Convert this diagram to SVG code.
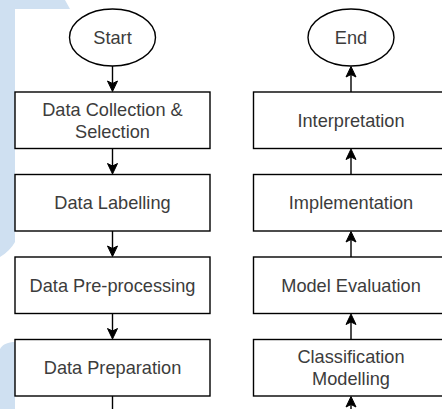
<svg xmlns="http://www.w3.org/2000/svg" width="442" height="409" viewBox="0 0 442 409">
  <defs>
    <marker id="arr" viewBox="-15 -6 16 12" refX="-5" refY="0" markerWidth="16" markerHeight="12" markerUnits="userSpaceOnUse" orient="auto">
      <path d="M-10.5,-5 L0,0 L-10.5,5 L-8,0 Z" fill="#000" stroke="#000" stroke-width="1" stroke-linejoin="miter"/>
    </marker>
  </defs>
  <style>
    .node { fill: #ffffff; stroke: #000000; stroke-width: 1.4; }
    .lbl { font-family: "Liberation Sans", Arial, sans-serif; font-size: 18.2px; fill: #3c3c3c; text-anchor: middle; }
    .conn { stroke: #000000; stroke-width: 1.4; fill: none; }
    .bg { fill: #cfe0f1; }
  </style>
  <rect x="0" y="0" width="442" height="409" fill="#ffffff"/>
  <g id="background">
    <path class="bg" d="M0,0 L65,0 L70,9 L15,9 L15,242 Q10,251 0,257 Z"/>
    <path class="bg" d="M0,409 L0,349 C3,344 8,342 15,342 L15,409 Z"/>
  </g>

  <g id="start">
    <ellipse class="node" cx="112.5" cy="37.5" rx="43" ry="28.5"/>
    <text class="lbl" x="112.5" y="44">Start</text>
  </g>
  <g id="data-collection">
    <rect class="node" x="15" y="92" width="195" height="56.5"/>
    <text class="lbl" x="112.5" y="115.7">Data Collection &amp;</text>
    <text class="lbl" x="112.5" y="137.7">Selection</text>
  </g>
  <g id="data-labelling">
    <rect class="node" x="15" y="174.5" width="195" height="56.5"/>
    <text class="lbl" x="112.5" y="209.2">Data Labelling</text>
  </g>
  <g id="data-preprocessing">
    <rect class="node" x="15" y="257" width="195" height="56.5"/>
    <text class="lbl" x="112.5" y="291.7">Data Pre-processing</text>
  </g>
  <g id="data-preparation">
    <rect class="node" x="15" y="339.5" width="195" height="56.5"/>
    <text class="lbl" x="112.5" y="374.2">Data Preparation</text>
  </g>

  <g id="end">
    <ellipse class="node" cx="351" cy="37.5" rx="43" ry="28.5"/>
    <text class="lbl" x="351" y="44">End</text>
  </g>
  <g id="interpretation">
    <rect class="node" x="253.5" y="92" width="200" height="56.5"/>
    <text class="lbl" x="351" y="126.7">Interpretation</text>
  </g>
  <g id="implementation">
    <rect class="node" x="253.5" y="174.5" width="200" height="56.5"/>
    <text class="lbl" x="351" y="209.2">Implementation</text>
  </g>
  <g id="model-evaluation">
    <rect class="node" x="253.5" y="257" width="200" height="56.5"/>
    <text class="lbl" x="351" y="291.7">Model Evaluation</text>
  </g>
  <g id="classification-modelling">
    <rect class="node" x="253.5" y="339.5" width="200" height="56.5"/>
    <text class="lbl" x="351" y="363.2">Classification</text>
    <text class="lbl" x="351" y="385.2">Modelling</text>
  </g>

  <g id="connectors">
    <line class="conn" x1="112.5" y1="66" x2="112.5" y2="86.5" marker-end="url(#arr)"/>
    <line class="conn" x1="112.5" y1="148.5" x2="112.5" y2="169" marker-end="url(#arr)"/>
    <line class="conn" x1="112.5" y1="231" x2="112.5" y2="251.5" marker-end="url(#arr)"/>
    <line class="conn" x1="112.5" y1="313.5" x2="112.5" y2="334" marker-end="url(#arr)"/>
    <line class="conn" x1="112.5" y1="396" x2="112.5" y2="409"/>
    <line class="conn" x1="351" y1="92" x2="351" y2="71.5" marker-end="url(#arr)"/>
    <line class="conn" x1="351" y1="174.5" x2="351" y2="154" marker-end="url(#arr)"/>
    <line class="conn" x1="351" y1="257" x2="351" y2="236.5" marker-end="url(#arr)"/>
    <line class="conn" x1="351" y1="339.5" x2="351" y2="319" marker-end="url(#arr)"/>
    <line class="conn" x1="351" y1="412" x2="351" y2="401.5" marker-end="url(#arr)"/>
  </g>
</svg>
